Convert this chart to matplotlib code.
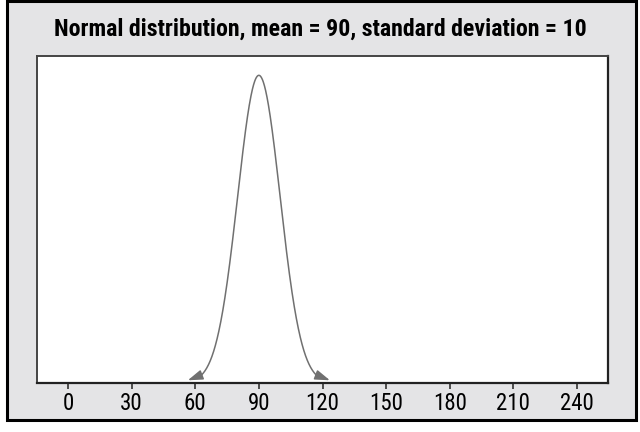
import numpy as np
import matplotlib
matplotlib.use("Agg")
import matplotlib.pyplot as plt
from matplotlib.patches import Rectangle
import logging
logging.getLogger('matplotlib.font_manager').setLevel(logging.ERROR)

# Data
title = "Normal distribution, mean = 90, standard deviation = 10"
mean = 90
sd = 10
curve_start = 63
curve_end = 117
arrow_left_tip = 56.5
arrow_right_tip = 123.5
x_ticks = [0, 30, 60, 90, 120, 150, 180, 210, 240]
x_tick_labels = ["0", "30", "60", "90", "120", "150", "180", "210", "240"]

def pdf(x):
    return np.exp(-0.5 * ((x - mean) / sd) ** 2) / (sd * np.sqrt(2 * np.pi))

plt.rcParams['font.family'] = ['Roboto Condensed', 'Archivo Narrow', 'PT Sans Narrow',
                               'Barlow Condensed', 'Sofia Sans Condensed', 'DejaVu Sans']

fig = plt.figure(figsize=(6.4, 4.32), dpi=100, facecolor='white')
bg = Rectangle((7 / 640, 12 / 432), 629 / 640, 419 / 432, transform=fig.transFigure,
               facecolor='#e4e4e6', edgecolor='black', linewidth=2.2, zorder=-1)
fig.patches.append(bg)

ax = fig.add_axes([37 / 640, 1 - 383 / 432, (608 - 37) / 640, (383 - 56) / 432])
ax.set_facecolor('white')

xs = np.linspace(curve_start, curve_end, 400)
line_color = '#707070'
ax.plot(xs, pdf(xs), color=line_color, linewidth=1.1)
ax.annotate('', xy=(arrow_left_tip, 0.00035), xytext=(curve_start, pdf(curve_start)),
            arrowprops=dict(arrowstyle='-|>,head_length=0.9,head_width=0.3',
                            color=line_color, lw=1.1, shrinkA=0, shrinkB=0))
ax.annotate('', xy=(arrow_right_tip, 0.00035), xytext=(curve_end, pdf(curve_end)),
            arrowprops=dict(arrowstyle='-|>,head_length=0.9,head_width=0.3',
                            color=line_color, lw=1.1, shrinkA=0, shrinkB=0))

ax.set_xlim(-14.6, 254.6)
ax.set_ylim(0, 0.0424)
ax.set_xticks(x_ticks)
ax.set_xticklabels(x_tick_labels, fontsize=16.5)
ax.set_yticks([])
ax.tick_params(axis='x', direction='out', length=4, width=1.2, color='#333333', pad=2.5)
for side in ['top', 'left']:
    ax.spines[side].set_color('#444444')
    ax.spines[side].set_linewidth(1.4)
for side in ['bottom', 'right']:
    ax.spines[side].set_color('#222222')
    ax.spines[side].set_linewidth(1.6)

fig.text(0.5, 1 - 29 / 432, title, ha='center', va='center', fontsize=17.2,
         fontweight='bold', color='black')

fig.savefig('out.png', dpi=100, facecolor=fig.get_facecolor())
